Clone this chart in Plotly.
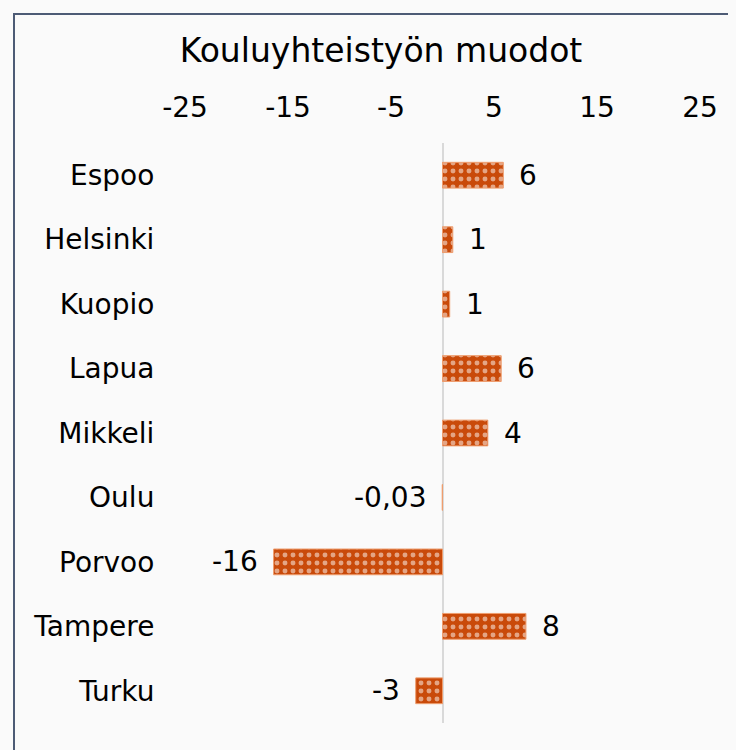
import plotly.graph_objects as go

categories = ["Espoo", "Helsinki", "Kuopio", "Lapua", "Mikkeli", "Oulu", "Porvoo", "Tampere", "Turku"]
values = [5.9, 1.0, 0.7, 5.7, 4.4, -0.03, -16.4, 8.1, -2.6]
value_labels = ["6", "1", "1", "6", "4", "-0,03", "-16", "8", "-3"]
tick_values = [-25, -15, -5, 5, 15, 25]
tick_labels = ["-25", "-15", "-5", "5", "15", "25"]
title_text = "Kouluyhteistyön muodot"

FONT = "DejaVu Sans"
BAR = "#C94A0A"
OFF = 8  # page body margin
W, H = 736, 742

fig = go.Figure()
fig.add_trace(go.Bar(
    x=values, y=categories, orientation="h", width=0.4,
    marker=dict(color=BAR, line=dict(color="#EE9D6E", width=1),
                pattern=dict(shape=".", fgcolor="white", bgcolor=BAR,
                             size=8, solidity=0.3, fillmode="overlay")),
    hoverinfo="skip", showlegend=False,
))

for c, v, t in zip(categories, values, value_labels):
    fig.add_annotation(x=v, y=c, text=t, showarrow=False,
                       xanchor="left" if v > 0 else "right",
                       xshift=14 if v > 0 else -14,
                       font=dict(family=FONT, size=28, color="#000000"))

# plot area in reference pixels
L, R, T, B = 185 - OFF, 700 - OFF, 143 - OFF, 723 - OFF
def px(x): return (x - OFF - L) / (R - L)
def py(y): return (B - (y - OFF)) / (B - T)
frame = dict(color="#4D5B75", width=2)
fig.add_shape(type="line", xref="paper", yref="paper",
              x0=px(13), x1=px(760), y0=py(14), y1=py(14), line=frame, layer="below")
fig.add_shape(type="line", xref="paper", yref="paper",
              x0=px(14), x1=px(14), y0=py(13), y1=py(770), line=frame, layer="below")

fig.update_layout(
    width=W, height=H,
    margin=dict(l=L, r=W - R, t=T, b=H - B, pad=0),
    paper_bgcolor="#FAFAFA", plot_bgcolor="#FAFAFA",
    font=dict(family=FONT, size=28, color="#000000"),
    title=dict(text=title_text, xref="container", yref="container",
               x=(381 - OFF) / W, y=1 - (50 - OFF) / H, xanchor="center", yanchor="middle",
               font=dict(family=FONT, size=33, color="#000000")),
)
fig.update_xaxes(side="top", range=[-25, 25], tickvals=tick_values, ticktext=tick_labels,
                 showgrid=False, zeroline=True, zerolinecolor="#D9D9D9", zerolinewidth=2,
                 showline=False, ticks="outside", ticklen=14, tickcolor="rgba(0,0,0,0)",
                 tickfont=dict(family=FONT, size=28, color="#000000"), fixedrange=True)
fig.update_yaxes(autorange="reversed", showgrid=False, showline=False,
                 ticks="outside", ticklen=24, tickcolor="rgba(0,0,0,0)",
                 tickfont=dict(family=FONT, size=28, color="#000000"), fixedrange=True)

fig.write_html("out.html", config={"displayModeBar": False},
               post_script="document.documentElement.style.overflow='hidden';document.body.style.overflow='hidden';document.body.style.background='#FAFAFA';")
